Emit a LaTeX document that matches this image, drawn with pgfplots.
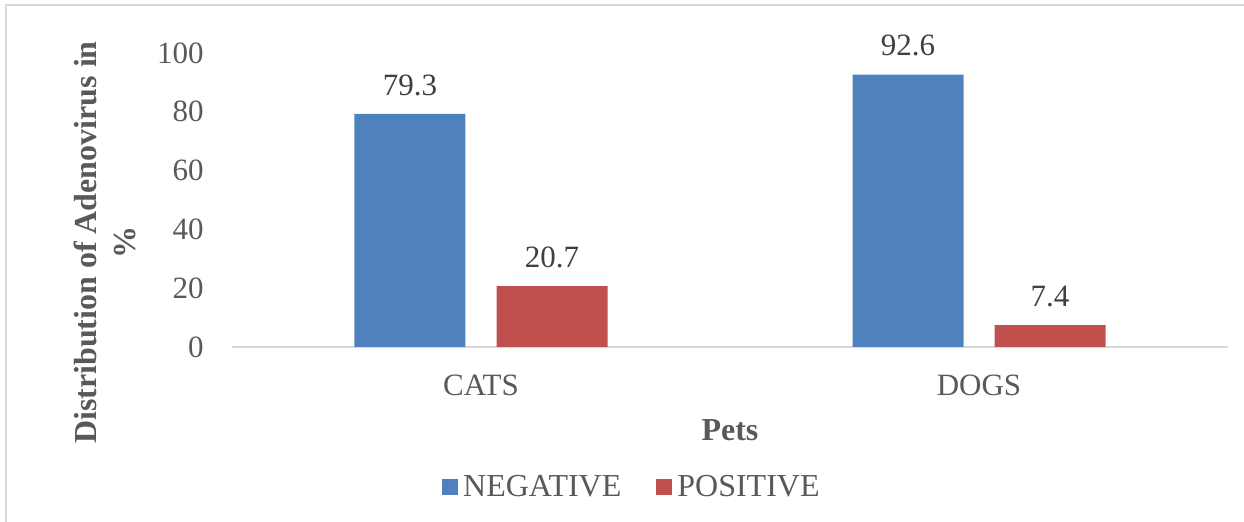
\documentclass[border=0pt]{standalone}
\usepackage{fontspec}
\setmainfont{Liberation Serif}
\usepackage{pgfplots}
\pgfplotsset{compat=1.18}
\definecolor{cneg}{HTML}{4F81BD}
\definecolor{cpos}{HTML}{C0504D}
\definecolor{ctxt}{HTML}{595959}
\definecolor{clab}{HTML}{404040}
\definecolor{cgrid}{HTML}{D9D9D9}
\begin{document}
\begin{tikzpicture}
\useasboundingbox (0,0) rectangle (622pt,261pt);
\draw[color=cgrid, line width=1pt] (3pt,0) -- (3pt,258.5pt) -- (622pt,258.5pt);
\begin{axis}[
  at={(116pt,87.5pt)}, anchor=south west,
  width=498pt, height=147pt, scale only axis,
  ymin=0, ymax=100, xmin=-0.5, xmax=1.5,
  ybar=15.5pt, bar width=55.5pt,
  axis lines*=left,
  x axis line style={draw=cgrid, line width=0.75pt},
  y axis line style={draw=none},
  xtick=data, xticklabels={CATS,DOGS},
  ytick={0,20,40,60,80,100},
  major tick length=0pt,
  /pgf/number format/assume math mode=true,
  yticklabel style={font=\fontsize{15.5}{18}\selectfont, color=ctxt, anchor=east, inner sep=0pt, xshift=-14pt},
  xticklabel style={font=\fontsize{15.5}{18}\selectfont, color=ctxt, anchor=north, inner sep=0pt, yshift=-14pt},
  xlabel={Pets},
  xlabel style={at={(axis description cs:0.5,0)}, anchor=center, yshift=-41.5pt, font=\fontsize{16}{19}\selectfont\bfseries, color=ctxt, inner sep=0pt},
  ylabel={Distribution of Adenovirus in\\\%},
  ylabel style={at={(axis description cs:-0.1275,0.355)}, anchor=center, font=\fontsize{16}{19.5}\selectfont\bfseries, color=ctxt, align=center, inner sep=0pt},
  nodes near coords,
  every node near coord/.append style={font=\fontsize{15.5}{18}\selectfont, color=clab, anchor=south, inner sep=0pt, yshift=9pt},
  legend style={at={(0.403,-0.476)}, anchor=center, draw=none, fill=none, legend columns=2,
    font=\fontsize{16}{19}\selectfont, text=ctxt, nodes={inner xsep=2.5pt, inner ysep=0pt},
    /tikz/every even column/.append style={column sep=15pt}},
  legend image code/.code={\fill[#1,draw=none] (0pt,-4pt) rectangle (8pt,4pt);},
  clip=false,
]
\addplot[fill=cneg, draw=none] coordinates {(0,79.3) (1,92.6)};
\addplot[fill=cpos, draw=none] coordinates {(0,20.7) (1,7.4)};
\legend{NEGATIVE,POSITIVE}
\end{axis}
\end{tikzpicture}
\end{document}
